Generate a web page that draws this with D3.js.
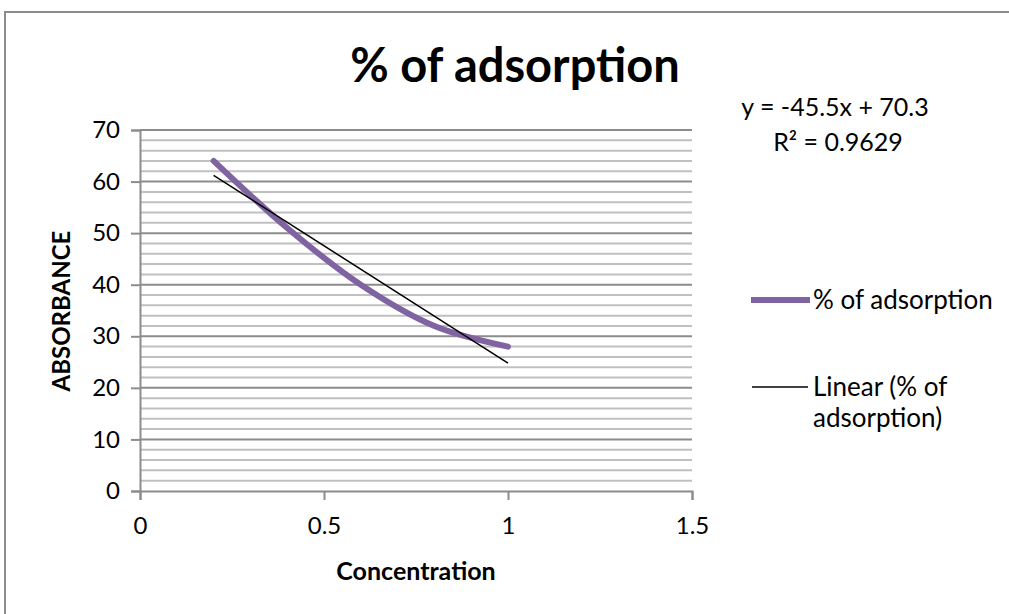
<!DOCTYPE html>
<html>
<head>
<meta charset="utf-8">
<script src="https://cdn.jsdelivr.net/npm/d3@7"></script>
<style>
  body { margin: 0; background: #fff; }
  text { font-family: Lato, "Open Sans", sans-serif; fill: #000; }
</style>
</head>
<body>
<div id="chart"></div>
<script>
// data
var concentration = [0.2, 0.4, 0.6, 0.8, 1.0];
var adsorption = [64, 51, 40, 32, 28];
var xTicks = [0, 0.5, 1, 1.5];
var yTicks = [0, 10, 20, 30, 40, 50, 60, 70];
var seriesName = "% of adsorption";
var trendName = ["Linear (% of", "adsorption)"];

var svgWidth = 1009, svgHeight = 614;

var svg = d3.select("#chart").append("svg")
  .attr("width", svgWidth)
  .attr("height", svgHeight);

// outer chart border
svg.append("rect")
  .attr("x", 5).attr("y", 12)
  .attr("width", 1100).attr("height", 700)
  .attr("fill", "none")
  .attr("stroke", "#8c8c8c")
  .attr("stroke-width", 2);

var x = d3.scaleLinear().domain([0, 1.5]).range([140, 692]);
var y = d3.scaleLinear().domain([0, 70]).range([491, 130]);

// least squares fit
var mx = d3.mean(concentration), my = d3.mean(adsorption);
var sxy = d3.sum(concentration, (d, i) => (d - mx) * (adsorption[i] - my));
var sxx = d3.sum(concentration, d => (d - mx) * (d - mx));
var slope = sxy / sxx;
var intercept = my - slope * mx;
var ssRes = d3.sum(concentration, (d, i) => Math.pow(adsorption[i] - (slope * d + intercept), 2));
var ssTot = d3.sum(adsorption, d => (d - my) * (d - my));
var r2 = 1 - ssRes / ssTot;

// minor gridlines every 2
var minor = d3.range(2, 70, 2).filter(d => d % 10 !== 0);
svg.append("g").selectAll("line")
  .data(minor).enter().append("line")
  .attr("x1", x(0)).attr("x2", x(1.5))
  .attr("y1", d => y(d)).attr("y2", d => y(d))
  .attr("stroke", "#c0c0c0")
  .attr("stroke-width", 2);

// major gridlines
svg.append("g").selectAll("line")
  .data(yTicks.filter(d => d > 0)).enter().append("line")
  .attr("x1", x(0)).attr("x2", x(1.5))
  .attr("y1", d => y(d)).attr("y2", d => y(d))
  .attr("stroke", "#8c8c8c")
  .attr("stroke-width", 2);

// axes
var xAxis = svg.append("g")
  .attr("transform", `translate(0, ${y(0)})`)
  .call(d3.axisBottom(x).tickValues(xTicks).tickSize(9).tickPadding(17)
    .tickFormat(d3.format("~g")));
var yAxis = svg.append("g")
  .attr("transform", `translate(${x(0)}, 0)`)
  .call(d3.axisLeft(y).tickValues(yTicks).tickSize(9).tickPadding(11));

[xAxis, yAxis].forEach(function(a) {
  a.select(".domain").attr("stroke", "#8c8c8c").attr("stroke-width", 2);
  a.selectAll(".tick line").attr("stroke", "#8c8c8c").attr("stroke-width", 2);
  a.selectAll(".tick text")
    .attr("font-size", "24px")
    .attr("font-family", "Lato, sans-serif")
    .attr("fill", "#000");
});

// data line
svg.append("path")
  .datum(concentration.map((d, i) => [d, adsorption[i]]))
  .attr("fill", "none")
  .attr("stroke", "#8064a2")
  .attr("stroke-width", 6)
  .attr("stroke-linecap", "round")
  .attr("d", d3.line()
    .x(d => x(d[0]))
    .y(d => y(d[1]))
    .curve(d3.curveCatmullRom.alpha(0.5)));

// trendline
var x0 = d3.min(concentration), x1 = d3.max(concentration);
svg.append("line")
  .attr("x1", x(x0)).attr("y1", y(slope * x0 + intercept))
  .attr("x2", x(x1)).attr("y2", y(slope * x1 + intercept))
  .attr("stroke", "#000")
  .attr("stroke-width", 1.5);

// title
svg.append("text")
  .attr("x", 515).attr("y", 82)
  .attr("text-anchor", "middle")
  .attr("font-size", "47px")
  .attr("font-weight", "bold")
  .text("% of adsorption");

// axis titles
svg.append("text")
  .attr("x", 416).attr("y", 580)
  .attr("text-anchor", "middle")
  .attr("font-size", "25px")
  .attr("font-weight", "bold")
  .text("Concentration");

svg.append("text")
  .attr("transform", "translate(70, 311) rotate(-90)")
  .attr("text-anchor", "middle")
  .attr("font-size", "24px")
  .attr("font-weight", "bold")
  .text("ABSORBANCE");

// equation
svg.append("text")
  .attr("x", 835).attr("y", 116)
  .attr("text-anchor", "middle")
  .attr("font-size", "25px")
  .text(`y = ${slope.toFixed(1)}x + ${intercept.toFixed(1)}`);
svg.append("text")
  .attr("x", 838).attr("y", 151)
  .attr("text-anchor", "middle")
  .attr("font-size", "25px")
  .text(`R² = ${r2.toFixed(4)}`);

// legend
var legend = svg.append("g");
legend.append("line")
  .attr("x1", 751).attr("x2", 810)
  .attr("y1", 300).attr("y2", 300)
  .attr("stroke", "#8064a2").attr("stroke-width", 6);
legend.append("text")
  .attr("x", 813).attr("y", 309)
  .attr("font-size", "26px")
  .text(seriesName);
legend.append("line")
  .attr("x1", 752).attr("x2", 808)
  .attr("y1", 387).attr("y2", 387)
  .attr("stroke", "#000").attr("stroke-width", 1.5);
legend.selectAll(".trend")
  .data(trendName).enter().append("text")
  .attr("x", 813)
  .attr("y", (d, i) => 396 + i * 31)
  .attr("font-size", "26px")
  .text(d => d);
</script>
</body>
</html>
